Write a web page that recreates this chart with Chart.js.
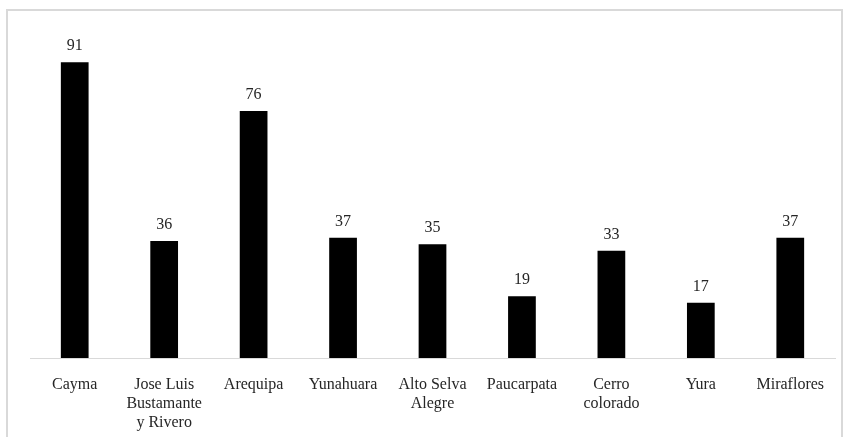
<!DOCTYPE html>
<html>
<head>
<meta charset="utf-8">
<script src="https://cdn.jsdelivr.net/npm/chart.js@4"></script>
<style>
  html, body { margin: 0; padding: 0; background: #fff; overflow: hidden; }
  #wrap { position: relative; width: 846px; height: 437px; }
  #frame { position: absolute; left: 6px; top: 9px; width: 837px; height: 440px; border: 2px solid #d9d9d9; box-sizing: border-box; }
  canvas { position: absolute; left: 0; top: 0; }
</style>
</head>
<body>
<div id="wrap">
  <div id="frame"></div>
  <canvas id="myChart" width="846" height="437"></canvas>
</div>
<script>
let districts = ['Cayma', ['Jose Luis', 'Bustamante', 'y Rivero'], 'Arequipa', 'Yunahuara',
    ['Alto Selva', 'Alegre'], 'Paucarpata', ['Cerro', 'colorado'], 'Yura', 'Miraflores'];
let counts = [91, 36, 76, 37, 35, 19, 33, 17, 37];

let serif = '"Liberation Serif", "Times New Roman", serif';

// writes each count just above its bar
const valueLabels = {
    id: 'valueLabels',
    afterDatasetsDraw(chart) {
        let c = chart.ctx;
        let meta = chart.getDatasetMeta(0);
        c.save();
        c.font = '16px ' + serif;
        c.fillStyle = '#262626';
        c.textAlign = 'center';
        c.textBaseline = 'bottom';
        meta.data.forEach((bar, i) => {
            c.fillText(counts[i], bar.x, bar.y - 8);
        });
        c.restore();
    }
};

let ctx = document.getElementById('myChart').getContext('2d');
let myChart = new Chart(ctx, {
    type: 'bar',
    data: {
        labels: districts,
        datasets: [{
            data: counts,
            backgroundColor: '#000',
            barPercentage: 0.31,
            categoryPercentage: 1
        }]
    },
    options: {
        responsive: false,
        animation: false,
        layout: { padding: { left: 30, right: 11, top: 33, bottom: 0 } },
        plugins: { legend: { display: false }, tooltip: { enabled: false } },
        scales: {
            y: { display: false, min: 0, max: 100 },
            x: {
                grid: { display: false, drawTicks: false },
                border: { color: '#d9d9d9', width: 1 },
                ticks: {
                    autoSkip: false,
                    maxRotation: 0,
                    padding: 17,
                    color: '#262626',
                    font: { family: serif, size: 16, lineHeight: 1.2 }
                },
                afterFit(scale) { scale.height = 79; }
            }
        }
    },
    plugins: [valueLabels]
});
</script>
</body>
</html>
